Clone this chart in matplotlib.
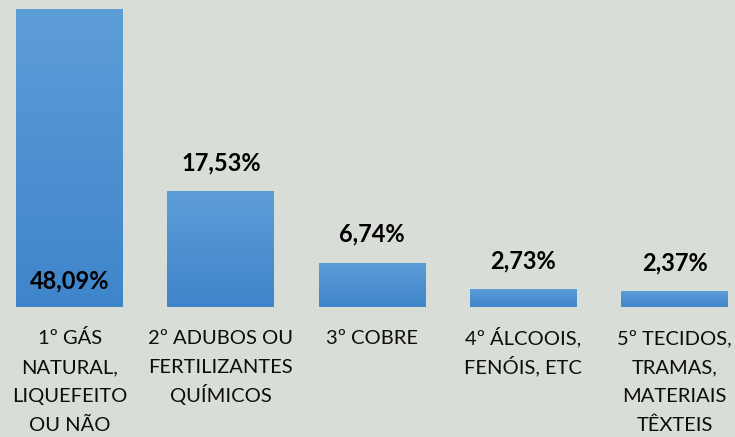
import numpy as np
import matplotlib
matplotlib.use('Agg')
import matplotlib.pyplot as plt
from matplotlib.colors import LinearSegmentedColormap

# dados
categorias = ['1º GÁS\nNATURAL,\nLIQUEFEITO\nOU NÃO',
              '2º ADUBOS OU\nFERTILIZANTES\nQUÍMICOS',
              '3º COBRE',
              '4º ÁLCOOIS,\nFENÓIS, ETC',
              '5º TECIDOS,\nTRAMAS,\nMATERIAIS\nTÊXTEIS']
valores = [48.09, 17.53, 6.74, 2.73, 2.37]
rotulos = ['48,09%', '17,53%', '6,74%', '2,73%', '2,37%']

plt.rcParams['font.family'] = ['Lato', 'DejaVu Sans']

W, H = 735, 437
fig = plt.figure(figsize=(W / 100, H / 100), dpi=100)
fig.patch.set_facecolor('#d9ddd7')

# eixo: de y=9 px (topo) até y=307 px (base)
ax = fig.add_axes([0, (H - 307) / H, 1, (307 - 9) / H])
ax.set_facecolor('none')
ax.axis('off')

x = np.arange(len(valores))
barras = ax.bar(x, valores, width=0.707, color='none', edgecolor='none')

# gradiente azul em cada barra
cmap = LinearSegmentedColormap.from_list('azul', ['#3f85cb', '#5d9dd8'])
grad = np.linspace(0, 1, 256).reshape(-1, 1)
for b in barras:
    x0, w, h = b.get_x(), b.get_width(), b.get_height()
    im = ax.imshow(grad, cmap=cmap, origin='lower', aspect='auto',
                   extent=[x0, x0 + w, 0, min(h, 45.15)], zorder=2)
    im.set_clip_path(b)

ax.set_xlim(-0.46, 4.40)
ax.set_ylim(0, 45.15)

# rótulos de valor
for i, (v, r) in enumerate(zip(valores, rotulos)):
    if i == 0:
        ax.annotate(r, (i, 0), xytext=(0, 26), textcoords='offset pixels',
                    ha='center', va='center', fontsize=17, fontweight='bold',
                    color='black', zorder=3)
    else:
        ax.annotate(r, (i, v), xytext=(0, 17), textcoords='offset pixels',
                    ha='center', va='bottom', fontsize=17, fontweight='bold',
                    color='black', zorder=3)

# rótulos das categorias, linha a linha com espaçamento fixo
for i, c in enumerate(categorias):
    for k, linha in enumerate(c.split('\n')):
        ax.annotate(linha, (i, 0), xytext=(0, -37 - 29 * k),
                    textcoords='offset pixels', ha='center', va='baseline',
                    fontsize=14.5, color='#0d0d0d', annotation_clip=False)

fig.savefig('out.png', dpi=100, facecolor=fig.get_facecolor())
